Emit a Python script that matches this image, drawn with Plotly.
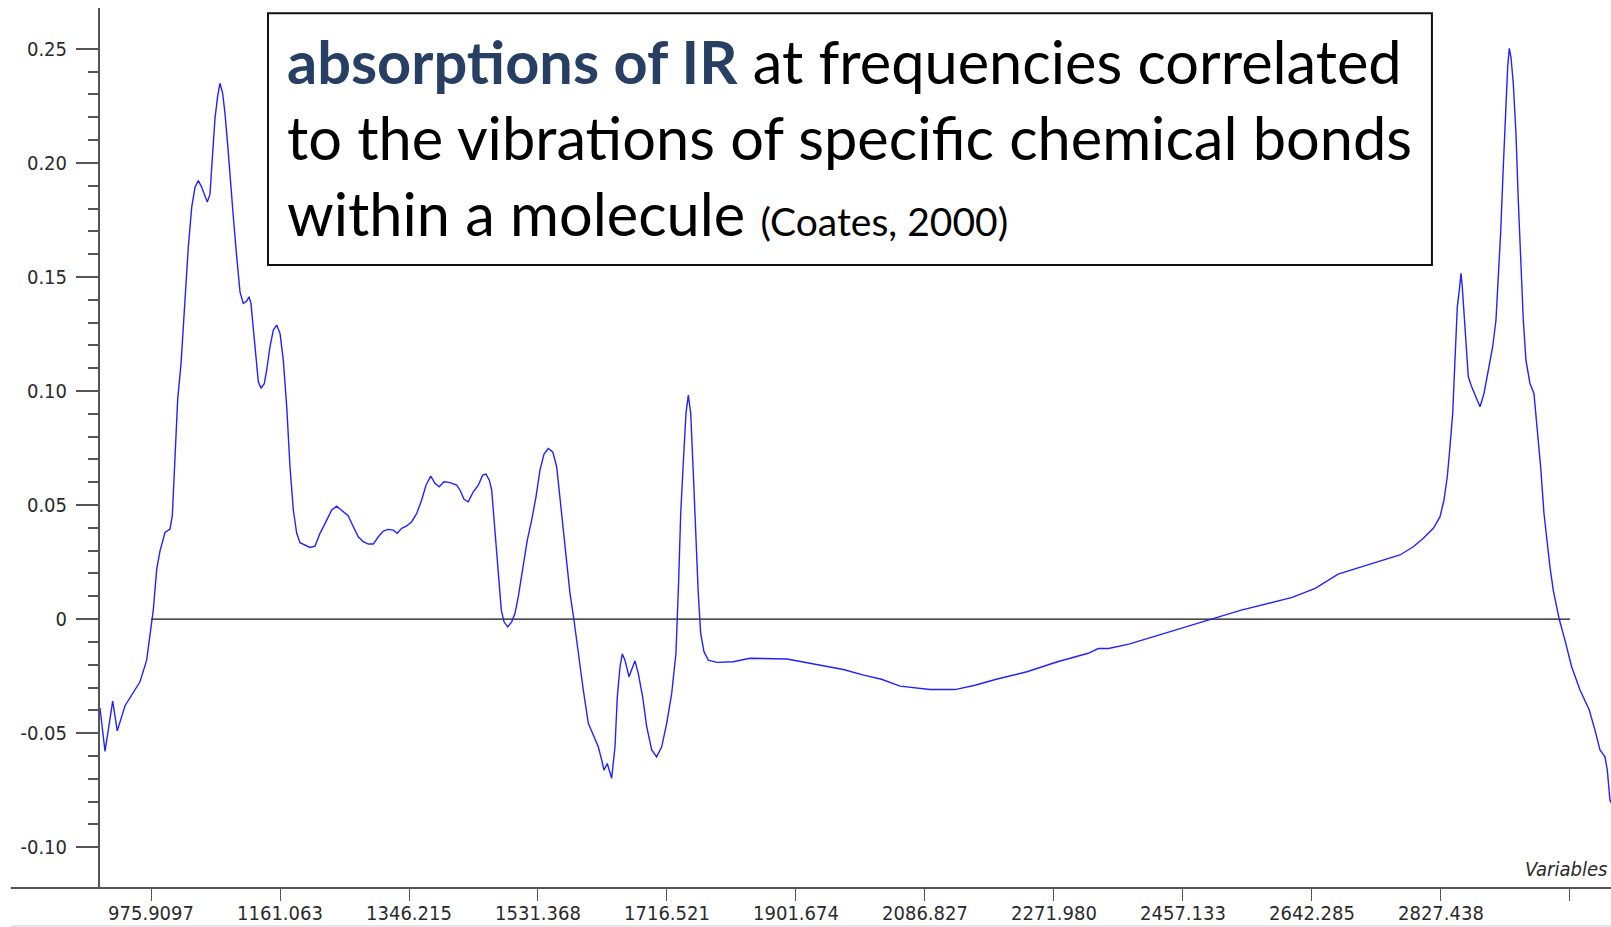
import plotly.graph_objects as go

# IR spectrum
wavenumber = [
    902.7, 909.9, 920.9, 927.5, 938.6, 960.1, 969.7, 974.5, 979.2, 984.1,
    988.8, 996.0, 1003.2, 1006.5, 1010.4, 1014.2, 1019.0, 1022.3, 1025.7, 1029.4,
    1034.3, 1039.1, 1043.8, 1048.7, 1056.7, 1060.6, 1063.9, 1067.8, 1071.6, 1074.9,
    1078.8, 1082.1, 1086.0, 1089.3, 1094.0, 1098.9, 1103.7, 1108.4, 1113.3, 1116.6,
    1119.4, 1122.7, 1126.2, 1129.9, 1133.8, 1138.5, 1142.0, 1146.7, 1151.5, 1156.3,
    1161.1, 1165.8, 1170.7, 1175.4, 1180.2, 1185.0, 1189.8, 1197.0, 1204.1, 1211.3,
    1218.5, 1228.1, 1235.3, 1242.4, 1249.6, 1259.1, 1266.3, 1273.4, 1280.6, 1287.8,
    1295.0, 1302.2, 1309.3, 1316.5, 1323.7, 1329.4, 1335.7, 1342.9, 1350.1, 1357.3,
    1364.4, 1370.6, 1377.4, 1383.5, 1389.7, 1396.4, 1405.1, 1414.7, 1419.4, 1425.2,
    1431.3, 1438.5, 1445.7, 1452.0, 1456.7, 1461.5, 1464.9, 1467.2, 1471.1, 1475.0,
    1478.7, 1482.6, 1487.9, 1493.6, 1498.4, 1503.1, 1510.3, 1516.0, 1522.3, 1528.5,
    1534.2, 1540.0, 1546.2, 1552.5, 1558.2, 1563.0, 1570.1, 1577.3, 1583.0, 1589.2,
    1596.4, 1603.6, 1613.2, 1617.9, 1622.8, 1626.1, 1630.8, 1637.1, 1641.9, 1645.2,
    1649.1, 1652.4, 1656.2, 1662.0, 1670.6, 1675.3, 1681.6, 1687.4, 1694.6, 1701.7,
    1708.9, 1716.1, 1723.3, 1729.4, 1733.3, 1736.2, 1739.9, 1743.8, 1747.1, 1750.6,
    1754.3, 1758.2, 1761.4, 1764.9, 1769.6, 1775.8, 1787.9, 1811.7, 1835.7, 1888.9,
    1910.9, 1940.3, 1969.6, 1998.8, 2024.4, 2051.0, 2094.0, 2130.0, 2158.6, 2189.2,
    2233.1, 2277.1, 2321.1, 2335.7, 2350.3, 2379.6, 2416.2, 2452.8, 2496.8, 2540.7,
    2577.3, 2613.9, 2646.9, 2679.9, 2716.5, 2754.3, 2768.6, 2787.7, 2802.1, 2816.5,
    2826.0, 2831.8, 2836.5, 2840.4, 2844.3, 2846.1, 2848.0, 2850.9, 2853.8, 2856.2,
    2858.0, 2860.5, 2863.4, 2866.7, 2871.5, 2877.7, 2883.5, 2889.2, 2895.4, 2901.7,
    2906.4, 2909.7, 2913.1, 2916.9, 2920.7, 2923.2, 2925.5, 2927.9, 2931.2, 2935.1,
    2938.4, 2941.8, 2945.6, 2949.4, 2955.2, 2960.9, 2965.7, 2970.5, 2975.3, 2979.2,
    2983.9, 2988.6, 2997.2, 3005.4, 3015.0, 3027.0, 3040.3, 3048.5, 3055.7, 3062.9,
    3066.2, 3070.0, 3078.6,
]
absorbance = [
    -0.039, -0.058, -0.036, -0.049, -0.038, -0.0275, -0.018, -0.006, 0.004, 0.0219,
    0.0298, 0.038, 0.0395, 0.0454, 0.0728, 0.0963, 0.112, 0.1296, 0.1472, 0.1629,
    0.1805, 0.1893, 0.1922, 0.1893, 0.1828, 0.1863, 0.202, 0.2196, 0.2294, 0.2349,
    0.2304, 0.2216, 0.2079, 0.1942, 0.1765, 0.1589, 0.1433, 0.1384, 0.1394, 0.1413,
    0.1384, 0.1276, 0.1159, 0.1041, 0.1012, 0.1032, 0.1092, 0.1194, 0.1267, 0.1289,
    0.1252, 0.1135, 0.0931, 0.0668, 0.0478, 0.0376, 0.0335, 0.0324, 0.0314, 0.032,
    0.0376, 0.0434, 0.0478, 0.0495, 0.0478, 0.0452, 0.0405, 0.0361, 0.0339, 0.0329,
    0.0329, 0.0361, 0.0386, 0.0393, 0.039, 0.0376, 0.0398, 0.0408, 0.0427, 0.0463,
    0.0522, 0.0587, 0.0627, 0.0595, 0.058, 0.0602, 0.0598, 0.0587, 0.0566, 0.0525,
    0.0514, 0.0558, 0.0587, 0.0631, 0.0636, 0.0609, 0.0566, 0.0478, 0.0332, 0.0171,
    0.0039, -0.0012, -0.0034, -0.0012, 0.0025, 0.0098, 0.0229, 0.0346, 0.0434, 0.0536,
    0.0653, 0.0723, 0.0748, 0.0733, 0.0668, 0.0536, 0.0317, 0.0113, -0.0004, -0.015,
    -0.0311, -0.0457, -0.0523, -0.056, -0.0618, -0.0662, -0.0633, -0.0698, -0.056, -0.0341,
    -0.0209, -0.0153, -0.018, -0.0253, -0.0183, -0.0238, -0.0341, -0.0472, -0.0574, -0.0604,
    -0.056, -0.0457, -0.0326, -0.015, 0.0171, 0.0463, 0.0683, 0.0902, 0.0982, 0.0902,
    0.0639, 0.0346, 0.0113, -0.0063, -0.0143, -0.018, -0.019, -0.0187, -0.0172, -0.0175,
    -0.0187, -0.0205, -0.0221, -0.0246, -0.0264, -0.0294, -0.0309, -0.0309, -0.029, -0.0264,
    -0.0231, -0.0187, -0.015, -0.0129, -0.0129, -0.011, -0.0075, -0.0041, -0.0001, 0.0039,
    0.0066, 0.0095, 0.0135, 0.0197, 0.0232, 0.0266, 0.0281, 0.0317, 0.0354, 0.0398,
    0.0448, 0.0522, 0.0624, 0.0755, 0.0902, 0.1033, 0.1165, 0.1369, 0.1442, 0.1516,
    0.1457, 0.1355, 0.1223, 0.1062, 0.1018, 0.0975, 0.0931, 0.0989, 0.1092, 0.1194,
    0.1311, 0.1486, 0.1692, 0.1983, 0.2275, 0.2421, 0.2502, 0.2465, 0.2349, 0.2129,
    0.1837, 0.1545, 0.1311, 0.1135, 0.1033, 0.0989, 0.0843, 0.0668, 0.0463, 0.0346,
    0.0229, 0.0127, -0.0001, -0.0092, -0.0209, -0.0311, -0.0399, -0.0487, -0.0574, -0.0604,
    -0.0662, -0.0794, -0.084,
]

x_tickvals = [975.9097, 1161.063, 1346.215, 1531.368, 1716.521, 1901.674,
              2086.827, 2271.980, 2457.133, 2642.285, 2827.438, 3012.591]
x_ticktext = ["975.9097", "1161.063", "1346.215", "1531.368", "1716.521", "1901.674",
              "2086.827", "2271.980", "2457.133", "2642.285", "2827.438", ""]
y_tickvals = [-0.10, -0.05, 0.0, 0.05, 0.10, 0.15, 0.20, 0.25]
y_ticktext = ["-0.10", "-0.05", "0", "0.05", "0.10", "0.15", "0.20", "0.25"]
y_minorvals = [v / 100 for v in range(-9, 25) if v % 5 != 0]

baseline_x = [975.9097, 3012.591]
baseline_y = [0, 0]

tick_font = dict(family="Liberation Sans Narrow, Arial Narrow, DejaVu Sans Condensed, sans-serif",
                 size=20, color="#2a2a2a")
axis_col = "#555555"

fig = go.Figure()
fig.add_trace(go.Scatter(x=baseline_x, y=baseline_y, mode="lines",
                         line=dict(color="#111111", width=1.3), hoverinfo="skip"))
fig.add_trace(go.Scatter(x=wavenumber, y=absorbance, mode="lines",
                         line=dict(color="#2222ff", width=1.4)))

fig.update_layout(
    width=1611, height=927,
    margin=dict(l=100, r=0, t=8, b=39),
    paper_bgcolor="white", plot_bgcolor="white",
    showlegend=False,
    xaxis=dict(range=[902.7, 3071.5], tickmode="array", tickvals=x_tickvals,
               ticktext=x_ticktext, ticks="outside", ticklen=12, tickwidth=1.3,
               tickcolor=axis_col, showgrid=False, zeroline=False, showline=False,
               tickfont=tick_font, ticklabelstandoff=-5),
    yaxis=dict(range=[-0.1179, 0.2679], tickmode="array", tickvals=y_tickvals,
               ticktext=y_ticktext, ticks="outside", ticklen=22, tickwidth=2,
               tickcolor=axis_col, showgrid=False, zeroline=False, showline=True,
               linecolor=axis_col, linewidth=2, tickfont=tick_font,
               ticklabelstandoff=5,
               minor=dict(tickmode="array", tickvals=y_minorvals, ticks="outside",
                          ticklen=10, tickwidth=2, tickcolor=axis_col)),
)

# x axis line running past the y axis, and faint line at the very bottom
fig.add_shape(type="line", xref="paper", yref="paper", x0=-0.059, x1=1, y0=0, y1=0,
              line=dict(color=axis_col, width=2))
fig.add_shape(type="line", xref="paper", yref="paper", x0=-0.059, x1=1, y0=-0.0432, y1=-0.0432,
              line=dict(color="#cccccc", width=1))

# text box
fig.add_shape(type="rect", xref="paper", yref="paper", x0=0.1112, x1=0.8815, y0=0.7080, y1=0.9939,
              line=dict(color="#111111", width=2), fillcolor="white", layer="above")

box_font = dict(family="Lato, Open Sans, sans-serif", size=59.5, color="black")
fig.add_annotation(xref="paper", yref="paper", x=0.1224, y=0.940, xanchor="left", yanchor="middle",
                   showarrow=False, font=box_font,
                   text="<b><span style='color:#263f63'>absorptions of IR</span></b> at frequencies correlated")
fig.add_annotation(xref="paper", yref="paper", x=0.1224, y=0.853, xanchor="left", yanchor="middle",
                   showarrow=False, font=box_font,
                   text="to the vibrations of specific chemical bonds")
fig.add_annotation(xref="paper", yref="paper", x=0.1224, y=0.767, xanchor="left", yanchor="middle",
                   showarrow=False, font=box_font,
                   text="within a molecule <span style='font-size:39px'>(Coates, 2000)</span>")

fig.add_annotation(xref="paper", yref="paper", x=0.9988, y=0.022, xanchor="right", yanchor="middle",
                   showarrow=False, text="<i>Variables</i>", font=tick_font)

# drop the default page margin so the figure fills the window exactly
fig.write_html("out.html", config={"displayModeBar": False},
               post_script="document.body.style.margin='0';document.body.style.overflow='hidden';")
